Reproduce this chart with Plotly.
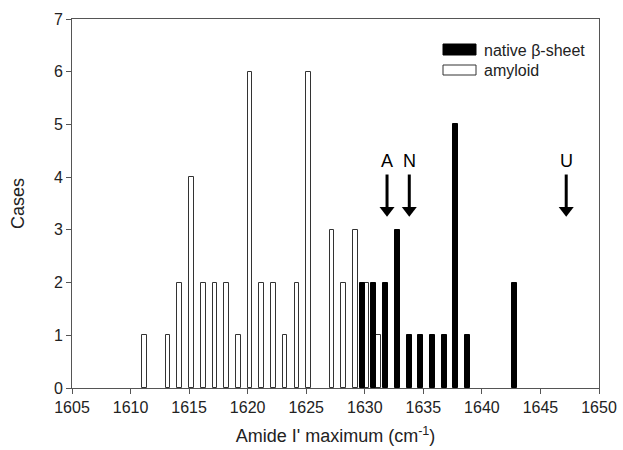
import plotly.graph_objects as go

# Amyloid data
amyloid_x = [1611, 1613, 1614, 1615, 1616, 1617, 1618, 1619, 1620, 1621, 1622,
             1623, 1624, 1625, 1627, 1628, 1629, 1630, 1631]
amyloid_y = [1, 1, 2, 4, 2, 2, 2, 1, 6, 2, 2, 1, 2, 6, 3, 2, 3, 2, 1]

# Native beta-sheet data
native_x = [1630, 1631, 1632, 1633, 1634, 1635, 1636, 1637, 1638, 1639, 1643]
native_y = [2, 2, 2, 3, 1, 1, 1, 1, 5, 1, 2]

# Arrow markers
arrow_labels = ["A", "N", "U"]
arrow_x = [1631.9, 1633.8, 1647.2]
arrow_top = 4.05
arrow_shaft_end = 3.4
arrow_head = 3.37
label_y = 4.3

x_ticks = list(range(1605, 1651, 5))
y_ticks = list(range(0, 8))

font_family = "Liberation Sans, Arial, sans-serif"

fig = go.Figure()
fig.add_trace(go.Bar(
    x=[v + 0.2 for v in amyloid_x], y=amyloid_y, width=0.4,
    marker=dict(color="white", line=dict(color="#333333", width=1)),
    name="amyloid", showlegend=False))
fig.add_trace(go.Bar(
    x=[v - 0.22 for v in native_x], y=native_y, width=0.42,
    marker=dict(color="black", line=dict(color="black", width=1)),
    name="native β-sheet", showlegend=False))

for lab, ax in zip(arrow_labels, arrow_x):
    fig.add_trace(go.Scatter(x=[ax, ax], y=[arrow_top, arrow_shaft_end], mode="lines",
                             line=dict(color="black", width=3), showlegend=False,
                             hoverinfo="skip"))
    fig.add_trace(go.Scatter(x=[ax], y=[arrow_head], mode="markers",
                             marker=dict(symbol="triangle-down", size=13, color="black"),
                             showlegend=False, hoverinfo="skip"))
    fig.add_annotation(x=ax, y=label_y, xref="x", yref="y", text=lab, showarrow=False,
                       font=dict(size=18, color="black", family=font_family))

# manual legend
fig.add_shape(type="rect", xref="paper", yref="paper",
              x0=(443 - 72) / 527, x1=(476 - 72) / 527,
              y0=(388 - 55) / 369, y1=(388 - 44) / 369,
              fillcolor="black", line=dict(color="black", width=1))
fig.add_shape(type="rect", xref="paper", yref="paper",
              x0=(443 - 72) / 527, x1=(476 - 72) / 527,
              y0=(388 - 75) / 369, y1=(388 - 65) / 369,
              fillcolor="white", line=dict(color="#333333", width=1))
fig.add_annotation(xref="paper", yref="paper", x=(482 - 72) / 527, y=(388 - 50) / 369,
                   text="native β-sheet", showarrow=False, xanchor="left", yanchor="middle",
                   font=dict(size=16, color="#222", family=font_family))
fig.add_annotation(xref="paper", yref="paper", x=(482 - 72) / 527, y=(388 - 70) / 369,
                   text="amyloid", showarrow=False, xanchor="left", yanchor="middle",
                   font=dict(size=16, color="#222", family=font_family))

fig.update_layout(
    width=623, height=450,
    margin=dict(l=72, r=24, t=19, b=62),
    plot_bgcolor="white", paper_bgcolor="white",
    barmode="overlay", bargap=0,
    font=dict(family=font_family, color="#222"),
)
fig.update_xaxes(range=[1605, 1650], tickvals=x_ticks, automargin=False,
                 ticks="outside", ticklen=5, tickcolor="#555",
                 showline=True, linecolor="#555", linewidth=1, mirror=True,
                 showgrid=False, zeroline=False, tickfont=dict(size=16),
                 title=dict(text="Amide I' maximum (cm<sup>-1</sup>)",
                            font=dict(size=18), standoff=14))
fig.update_yaxes(range=[0, 7], tickvals=y_ticks, automargin=False,
                 ticks="outside", ticklen=5, tickcolor="#555",
                 showline=True, linecolor="#555", linewidth=1, mirror=True,
                 showgrid=False, zeroline=False, tickfont=dict(size=16),
                 title=dict(text="Cases", font=dict(size=18), standoff=24))

fig.write_html("out.html", config={"displayModeBar": False},
               post_script="document.body.style.margin='0';")
